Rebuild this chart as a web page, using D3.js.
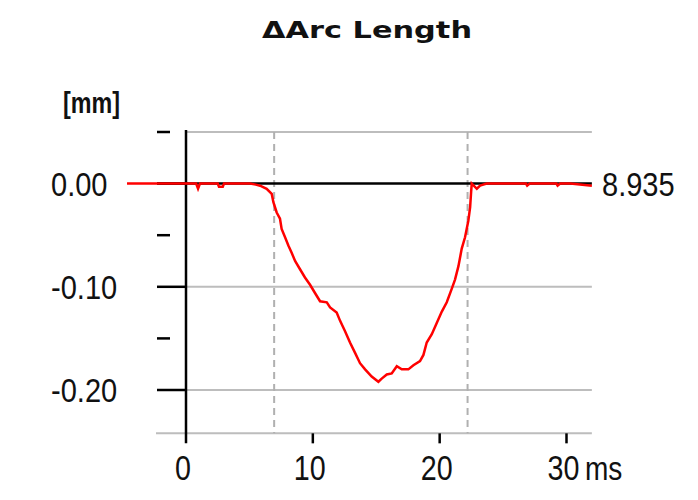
<!DOCTYPE html>
<html>
<head>
<meta charset="utf-8">
<script src="https://cdn.jsdelivr.net/npm/d3@7"></script>
<style>
  body { margin: 0; background: #fff; }
  text { font-family: "Liberation Sans", Arial, sans-serif; fill: #111; }
</style>
</head>
<body>
<div class="canvas"></div>
<script>
// data
const times = [-4.65, -2.3, 0, 0.8, 0.95, 1.1, 2.5, 2.6, 2.9, 3.0, 5.05, 5.5, 5.84, 6.36, 6.76, 6.89, 7.15, 7.41, 7.54, 7.81,
  8.07, 8.33, 8.60, 8.99, 9.38, 9.78, 10.17, 10.57, 11.10, 11.36, 11.88, 12.15, 12.54, 12.93, 13.33,
  13.72, 14.12, 14.64, 15.17, 15.43, 15.83, 16.22, 16.62, 17.01, 17.53, 17.93, 18.45, 18.72, 18.98,
  19.38, 19.77, 20.17, 20.56, 20.95, 21.21, 21.48, 21.74, 22.00, 22.26, 22.40, 22.48, 22.53, 22.93,
  23.19, 23.71, 26.8, 26.9, 27.1, 29.2, 29.3, 29.5, 30.3, 32.0]
const values = [0, 0, 0, 0, -0.005, 0, 0, -0.003, -0.003, 0, 0, -0.001, -0.002, -0.005, -0.010, -0.018, -0.028, -0.034, -0.044, -0.052,
  -0.060, -0.067, -0.075, -0.083, -0.091, -0.098, -0.106, -0.114, -0.115, -0.120, -0.125, -0.133, -0.143, -0.154, -0.164,
  -0.174, -0.180, -0.187, -0.192, -0.189, -0.185, -0.184, -0.177, -0.180, -0.180, -0.176, -0.172, -0.166, -0.154,
  -0.146, -0.135, -0.124, -0.115, -0.102, -0.093, -0.080, -0.063, -0.052, -0.036, -0.023, -0.008, 0, -0.005,
  -0.002, 0, 0, -0.002, 0, 0, -0.002, 0, 0, -0.002]
const yMajor = [0, -0.1, -0.2]
const yMinor = [0.05, -0.05, -0.15]
const yTickLabels = ["0.00", "-0.10", "-0.20"]
const xTicks = [0, 10, 20, 30]
const markers = [6.95, 22.2]
const gridLevels = [0.05, -0.1, -0.2]
const lastValue = "8.935"

// settings
const svgWidth = 698
const svgHeight = 500

const svg = d3.select(".canvas")
    .append("svg")
    .attr("width", svgWidth)
    .attr("height", svgHeight)

const x = d3.scaleLinear().domain([0, 30]).range([186, 566.5])
const y = d3.scaleLinear().domain([0.05, -0.2]).range([132, 390])
const yBottom = y(-0.242)
const xRight = x(32)

// text squeezed a little sideways, like the original
function label(txt, px, py, opts) {
    const g = svg.append("g").attr("transform", `translate(${px},${py}) scale(${opts.sx || 0.88},${opts.sy || 1})`)
    const t = g.append("text")
        .attr("font-size", opts.size || 33)
        .attr("text-anchor", opts.anchor || "start")
        .text(txt)
    if (opts.bold) t.attr("font-weight", "bold")
    if (opts.family) t.style("font-family", opts.family)
    if (opts.len) t.attr("textLength", opts.len).attr("lengthAdjust", "spacingAndGlyphs")
    return t
}

// gridlines
svg.selectAll(".grid")
    .data(gridLevels)
    .enter()
    .append("line")
        .attr("x1", x(0)).attr("x2", xRight)
        .attr("y1", d => y(d)).attr("y2", d => y(d))
        .attr("stroke", "#bdbdbd")
        .attr("stroke-width", 2)

svg.append("line")
    .attr("x1", 156).attr("x2", xRight)
    .attr("y1", yBottom).attr("y2", yBottom)
    .attr("stroke", "#bdbdbd")
    .attr("stroke-width", 2)

// dashed markers
svg.selectAll(".marker")
    .data(markers)
    .enter()
    .append("line")
        .attr("x1", d => x(d)).attr("x2", d => x(d))
        .attr("y1", y(0.05)).attr("y2", yBottom)
        .attr("stroke", "#b0b0b0")
        .attr("stroke-width", 2)
        .attr("stroke-dasharray", "7,5")

// zero line
svg.append("line")
    .attr("x1", 157).attr("x2", xRight)
    .attr("y1", y(0)).attr("y2", y(0))
    .attr("stroke", "#000")
    .attr("stroke-width", 2.5)

// y axis + ticks
svg.append("line")
    .attr("x1", x(0)).attr("x2", x(0))
    .attr("y1", 130).attr("y2", yBottom + 10)
    .attr("stroke", "#000")
    .attr("stroke-width", 2.5)

svg.selectAll(".ymaj")
    .data(yMajor)
    .enter()
    .append("line")
        .attr("x1", 157).attr("x2", x(0))
        .attr("y1", d => y(d)).attr("y2", d => y(d))
        .attr("stroke", "#000")
        .attr("stroke-width", 2.5)

svg.selectAll(".ymin")
    .data(yMinor)
    .enter()
    .append("line")
        .attr("x1", 157).attr("x2", 170)
        .attr("y1", d => y(d)).attr("y2", d => y(d))
        .attr("stroke", "#000")
        .attr("stroke-width", 2.5)

// x ticks
svg.selectAll(".xtick")
    .data(xTicks.slice(1))
    .enter()
    .append("line")
        .attr("x1", d => x(d)).attr("x2", d => x(d))
        .attr("y1", yBottom).attr("y2", yBottom + 10)
        .attr("stroke", "#000")
        .attr("stroke-width", 2.5)

// data line
const points = times.map((t, i) => [t, values[i]])
svg.append("path")
    .datum(points)
    .attr("d", d3.line().x(d => x(d[0])).y(d => y(d[1])))
    .attr("fill", "none")
    .attr("stroke", "#ff0000")
    .attr("stroke-width", 2.5)

// labels
yMajor.forEach((v, i) => label(yTickLabels[i], 51, y(v) + 12, {}))
xTicks.forEach(t => label(String(t), x(t) - 3, 480, {anchor: "middle", size: 35, sx: 0.82}))
label("ms", 585, 480, {size: 33, sx: 0.85})
label(lastValue, 602, y(0) + 12, {})
label("[mm]", 63, 113, {bold: true, size: 29, sx: 1, len: 57})
label("\u0394Arc Length", 262, 38, {bold: true, size: 30, sx: 1, sy: 0.78, len: 210, family: "'DejaVu Sans', sans-serif"})
</script>
</body>
</html>
